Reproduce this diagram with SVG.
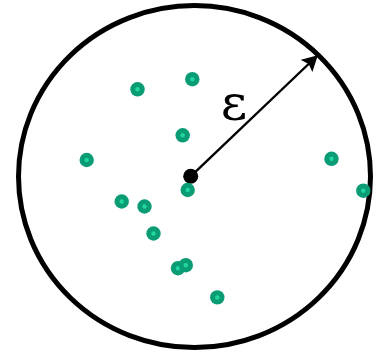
<svg xmlns="http://www.w3.org/2000/svg" width="377" height="353" viewBox="0 0 377 353">
<defs>
<marker id="ah" markerWidth="7" markerHeight="7" refX="6" refY="3.5" orient="auto" markerUnits="strokeWidth">
<path d="M0,0 L6.5,3.5 L0,7 L1.2,3.5 Z" fill="#000"/>
</marker>
<g id="dot"><circle r="7.2" fill="#0a9c74"/><circle r="2.2" fill="#22d6a0"/></g>
</defs>
<rect width="377" height="353" fill="#fff"/>
<g id="boundary">
<ellipse cx="194.5" cy="176.6" rx="176" ry="171" fill="none" stroke="#000" stroke-width="5"/>
</g>
<g id="connectors">
<line x1="190.7" y1="176.3" x2="317" y2="56" stroke="#000" stroke-width="2.4" marker-end="url(#ah)"/>
</g>
<g id="center"><circle cx="190.7" cy="176.3" r="7.5" fill="#000"/></g>
<g id="label"><text x="234" y="120" font-family="'DejaVu Serif', serif" font-size="51" text-anchor="middle" fill="#000">ε</text></g>
<g class="pt">
<g id="p1"><use href="#dot" x="137.5" y="89.3"/></g>
<g id="p2"><use href="#dot" x="192.3" y="79.2"/></g>
<g id="p3"><use href="#dot" x="182.7" y="135.3"/></g>
<g id="p4"><use href="#dot" x="86.7" y="160"/></g>
<g id="p5"><use href="#dot" x="331.5" y="158.8"/></g>
<g id="p6"><use href="#dot" x="363.3" y="190.7"/></g>
<g id="p7"><use href="#dot" x="187.7" y="190"/></g>
<g id="p8"><use href="#dot" x="121.7" y="201.5"/></g>
<g id="p9"><use href="#dot" x="144.5" y="206.5"/></g>
<g id="p10"><use href="#dot" x="153.5" y="233.5"/></g>
<g id="p11"><use href="#dot" x="178" y="268.2"/></g>
<g id="p12"><use href="#dot" x="185.8" y="265.2"/></g>
<g id="p13"><use href="#dot" x="217.3" y="297.4"/></g>
</g>
</svg>
